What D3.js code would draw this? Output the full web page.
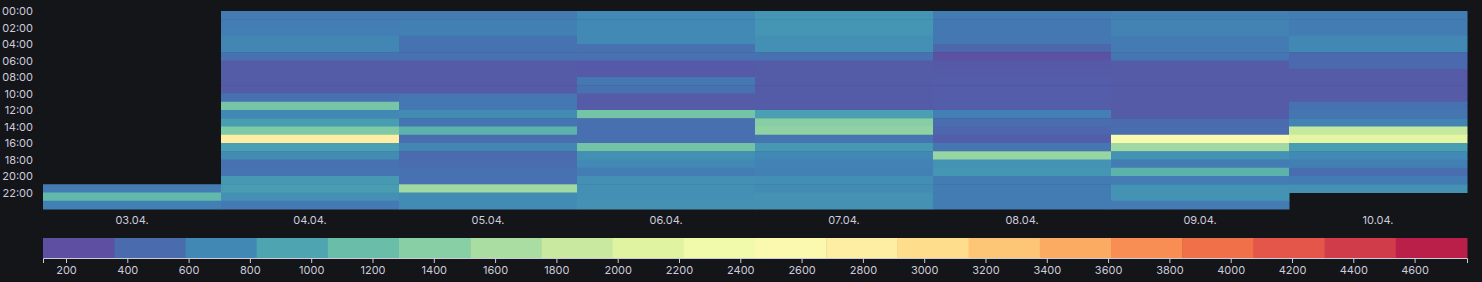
<!DOCTYPE html>
<html>
<head>
<meta charset="utf-8">
<script src="https://cdn.jsdelivr.net/npm/d3@7"></script>
<style>
  body { margin: 0; background: #141519; }
  svg text { font-family: Inter, "Liberation Sans", sans-serif; font-size: 11px; fill: #ccccdc; }
  .axis path, .axis line { stroke: #ccccdc; }
</style>
</head>
<body>
<script>
// days on x, hours on y
const days = ["03.04.", "04.04.", "05.04.", "06.04.", "07.04.", "08.04.", "09.04.", "10.04."];
const hours = d3.range(24);
const hourTicks = [0, 2, 4, 6, 8, 10, 12, 14, 16, 18, 20, 22];

// values per day, one per hour (null = no data)
const v0304 = [null, null, null, null, null, null, null, null, null, null, null, null,
  null, null, null, null, null, null, null, null, null, 500, 1000, 520];
const v0404 = [480, 500, 510, 580, 580, 400, 230, 230, 230, 230, 400, 1150,
  590, 760, 1220, 2700, 780, 620, 400, 420, 730, 750, 650, 470];
const v0504 = [480, 520, 520, 410, 410, 400, 220, 220, 220, 220, 450, 450,
  620, 440, 950, 370, 580, 350, 370, 400, 400, 1450, 620, 610];
const v0604 = [600, 600, 600, 600, 400, 400, 210, 210, 450, 400, 220, 220,
  1140, 390, 390, 390, 1130, 650, 600, 500, 650, 650, 650, 660];
const v0704 = [690, 690, 690, 650, 650, 400, 230, 230, 230, 230, 230, 230,
  780, 1280, 1330, 440, 720, 590, 540, 530, 640, 610, 680, 660];
const v0804 = [490, 460, 460, 460, 320, 150, 210, 220, 240, 240, 240, 240,
  510, 370, 310, 250, 440, 1390, 680, 690, 490, 490, 490, 490];
const v0904 = [520, 550, 550, 480, 480, 440, 220, 220, 220, 220, 220, 220,
  230, 350, 370, 2350, 1450, 670, 490, 950, 500, 680, 670, 480];
const v1004 = [490, 490, 490, 590, 590, 340, 340, 220, 220, 220, 220, 410,
  440, 550, 1750, 2050, 770, 600, 520, 380, 490, 660, null, null];
const dayValues = [v0304, v0404, v0504, v0604, v0704, v0804, v0904, v1004];

// colour scale limits and legend ticks
const colorMin = 125, colorMax = 4771;
const legendSteps = 20;
const legendTicks = d3.range(200, 4800, 200);

const width = 1482, height = 282;
const margin = {left: 43, right: 1467, top: 11, bottom: 209};

const svg = d3.select("body").append("svg")
  .attr("width", width)
  .attr("height", height);

const x = d3.scaleBand().domain(days).range([margin.left, margin.right]);
const y = d3.scaleBand().domain(hours).range([margin.top, margin.bottom]);
const yLabel = d3.scaleLinear().domain([0, 24]).range([margin.top, margin.bottom]);

const color = d3.scaleSequential(t => d3.interpolateSpectral(1 - t))
  .domain([colorMin, colorMax]);

// flatten into cells
const cells = [];
days.forEach(function(d, i) {
  dayValues[i].forEach(function(v, h) {
    if (v !== null) cells.push({day: d, hour: h, value: v});
  });
});

svg.append("g").selectAll("rect")
  .data(cells)
  .enter()
  .append("rect")
  .attr("x", d => x(d.day))
  .attr("y", d => y(d.hour))
  .attr("width", x.bandwidth() + 0.5)
  .attr("height", y.bandwidth() + 0.5)
  .attr("fill", d => color(d.value));

// y axis: hour labels at row tops
svg.append("g")
  .attr("transform", "translate(" + (margin.left - 10) + ",0)")
  .call(d3.axisLeft(yLabel).tickValues(hourTicks).tickSize(0).tickPadding(0)
    .tickFormat(h => d3.format("02")(h) + ":00"))
  .call(g => g.select(".domain").remove());

// x axis: day labels
svg.append("g")
  .attr("transform", "translate(0," + margin.bottom + ")")
  .call(d3.axisBottom(x).tickSize(0).tickPadding(7))
  .call(g => g.select(".domain").remove());

// legend, one swatch per step coloured at its lower edge
const lx = d3.scaleLinear().domain([colorMin, colorMax]).range([margin.left, margin.right]);
const step = (colorMax - colorMin) / legendSteps;
const bins = d3.range(legendSteps).map(i => colorMin + i * step);

svg.append("g").selectAll("rect")
  .data(bins)
  .enter()
  .append("rect")
  .attr("x", d => lx(d))
  .attr("y", 238)
  .attr("width", lx(colorMin + step) - lx(colorMin) + 0.5)
  .attr("height", 20)
  .attr("fill", d => color(d));

svg.append("g")
  .attr("class", "axis")
  .attr("transform", "translate(0,258)")
  .call(d3.axisBottom(lx).tickValues(legendTicks).tickFormat(d3.format("d"))
    .tickSizeInner(5).tickSizeOuter(5).tickPadding(3));
</script>
</body>
</html>
